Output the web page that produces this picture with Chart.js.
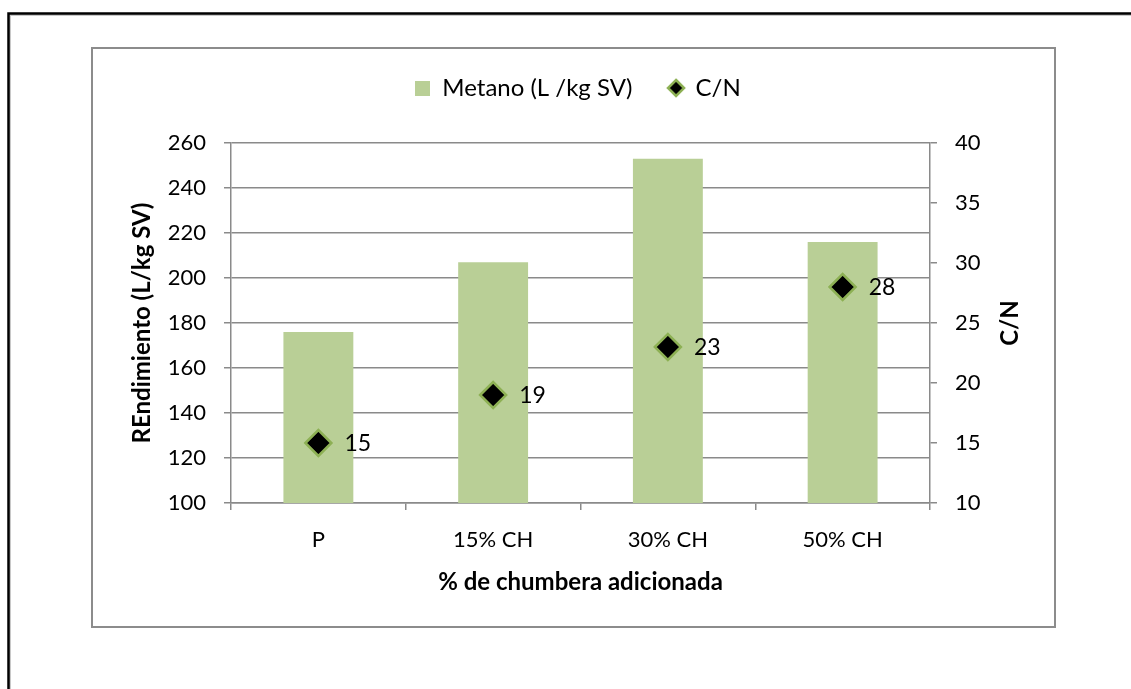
<!DOCTYPE html>
<html lang="es">
<head>
  <meta charset="UTF-8" />
  <title>Metano y C/N</title>
  <script src="https://cdn.jsdelivr.net/npm/chart.js"></script>
  <style>
    body {
      margin: 0;
      background: white;
    }
    .wrap {
      position: relative;
      width: 1131px;
      height: 689px;
    }
  </style>
</head>
<body>
  <div class="wrap">
    <canvas id="chart" width="1131" height="689"></canvas>
  </div>

  <script>
    const categories = ["P", "15% CH", "30% CH", "50% CH"];
    const metano = [176, 207, 253, 216];
    const cn = [15, 19, 23, 28];

    const font = "Lato, 'Open Sans', sans-serif";
    const greenBar = "#b9cf96";
    const greenEdge = "#8db054";
    const gridGray = "#8a8a8a";

    // small legend swatches
    function swatch(w, h, draw) {
      const c = document.createElement("canvas");
      c.width = w;
      c.height = h;
      draw(c.getContext("2d"));
      return c;
    }
    const barSwatch = swatch(15, 15, g => {
      g.fillStyle = greenBar;
      g.fillRect(0, 0, 15, 15);
    });
    const diamondSwatch = swatch(20, 20, g => {
      g.beginPath();
      g.moveTo(10, 2);
      g.lineTo(18, 10);
      g.lineTo(10, 18);
      g.lineTo(2, 10);
      g.closePath();
      g.fillStyle = "#000";
      g.fill();
      g.lineWidth = 2.5;
      g.strokeStyle = greenEdge;
      g.stroke();
    });

    // frames around the chart and the inner panel
    const frames = {
      id: "frames",
      beforeDraw(chart) {
        const ctx = chart.ctx;
        ctx.save();
        ctx.fillStyle = "white";
        ctx.fillRect(0, 0, chart.width, chart.height);
        ctx.strokeStyle = "#c8c8c8";
        ctx.lineWidth = 2;
        ctx.beginPath();
        ctx.moveTo(10, chart.height);
        ctx.lineTo(10, 15);
        ctx.lineTo(chart.width, 15);
        ctx.stroke();
        ctx.strokeStyle = "#000";
        ctx.lineWidth = 2.5;
        ctx.beginPath();
        ctx.moveTo(8.5, chart.height);
        ctx.lineTo(8.5, 13.5);
        ctx.lineTo(chart.width, 13.5);
        ctx.stroke();
        ctx.strokeStyle = "#8c8c8c";
        ctx.lineWidth = 2;
        ctx.strokeRect(92, 48, 963, 579);
        ctx.restore();
      }
    };

    // value labels beside the C/N points, and the right axis title
    const extras = {
      id: "extras",
      afterDatasetsDraw(chart) {
        const meta = chart.getDatasetMeta(1);
        const ctx = chart.ctx;
        ctx.save();
        ctx.font = "23px " + font;
        ctx.fillStyle = "#000";
        ctx.textBaseline = "middle";
        ctx.textAlign = "left";
        meta.data.forEach((pt, i) => {
          ctx.fillText(String(cn[i]), pt.x + 26, pt.y + 1);
        });
        const y1 = chart.scales.y1;
        ctx.translate(1010, (y1.top + y1.bottom) / 2);
        ctx.rotate(-Math.PI / 2);
        ctx.textAlign = "center";
        ctx.font = "bold 24px " + font;
        ctx.fillText("C/N", 0, 0);
        ctx.restore();
      }
    };

    // room between the legend and the plot
    const legendRoom = {
      id: "legendRoom",
      beforeInit(chart) {
        const fit = chart.legend.fit;
        chart.legend.fit = function () {
          fit.bind(chart.legend)();
          this.height = 143 - 40;
        };
      }
    };

    const ctx = document.getElementById("chart").getContext("2d");
    new Chart(ctx, {
      data: {
        labels: categories,
        datasets: [
          {
            type: "bar",
            label: "Metano (L /kg SV)",
            data: metano,
            backgroundColor: greenBar,
            borderWidth: 0,
            barPercentage: 0.4,
            categoryPercentage: 1,
            yAxisID: "y",
            order: 2
          },
          {
            type: "line",
            label: "C/N",
            data: cn,
            showLine: false,
            pointStyle: "rectRot",
            pointRadius: 13,
            pointBackgroundColor: "#000",
            pointBorderColor: greenEdge,
            pointBorderWidth: 2.5,
            yAxisID: "y1",
            order: 1
          }
        ]
      },
      options: {
        responsive: false,
        animation: false,
        layout: {
          padding: { left: 120, right: 95, top: 40, bottom: 86 }
        },
        plugins: {
          tooltip: { enabled: false },
          legend: {
            position: "top",
            labels: {
              usePointStyle: true,
              boxWidth: 15,
              boxHeight: 15,
              font: { family: font, size: 24 },
              color: "#000",
              padding: 36,
              sort: (a, b) => a.datasetIndex - b.datasetIndex,
              generateLabels(chart) {
                const items = Chart.defaults.plugins.legend.labels.generateLabels(chart);
                items.forEach(it => {
                  it.pointStyle = it.datasetIndex === 0 ? barSwatch : diamondSwatch;
                });
                return items;
              }
            }
          }
        },
        scales: {
          x: {
            afterFit(scale) { scale.height = 100; },
            grid: {
              offset: true,
              drawOnChartArea: false,
              drawTicks: true,
              tickLength: 7,
              color: gridGray,
              lineWidth: 1.5
            },
            border: { color: gridGray, width: 1.5 },
            ticks: {
              color: "#000",
              font: { family: font, size: 22 },
              padding: 17
            },
            title: {
              display: true,
              text: "% de chumbera adicionada",
              color: "#000",
              font: { family: font, size: 24, weight: "bold" },
              padding: { top: 0, bottom: 6 }
            }
          },
          y: {
            position: "left",
            min: 100,
            max: 260,
            afterFit(scale) { scale.width = 111; },
            ticks: {
              stepSize: 20,
              color: "#000",
              font: { family: font, size: 22 },
              padding: 18
            },
            grid: {
              color: gridGray,
              lineWidth: 1.5,
              tickLength: 7
            },
            border: { color: gridGray, width: 1.5 },
            title: {
              display: true,
              text: "REndimiento (L/kg SV)",
              color: "#000",
              font: { family: font, size: 24, weight: "bold" },
              padding: { top: 8, bottom: 0 }
            }
          },
          y1: {
            position: "right",
            min: 10,
            max: 40,
            afterFit(scale) { scale.width = 106; },
            ticks: {
              stepSize: 5,
              color: "#000",
              font: { family: font, size: 22 },
              padding: 18
            },
            grid: {
              drawOnChartArea: false,
              color: gridGray,
              lineWidth: 1.5,
              tickLength: 7
            },
            border: { color: gridGray, width: 1.5 }
          }
        }
      },
      plugins: [frames, extras, legendRoom]
    });
  </script>
</body>
</html>
